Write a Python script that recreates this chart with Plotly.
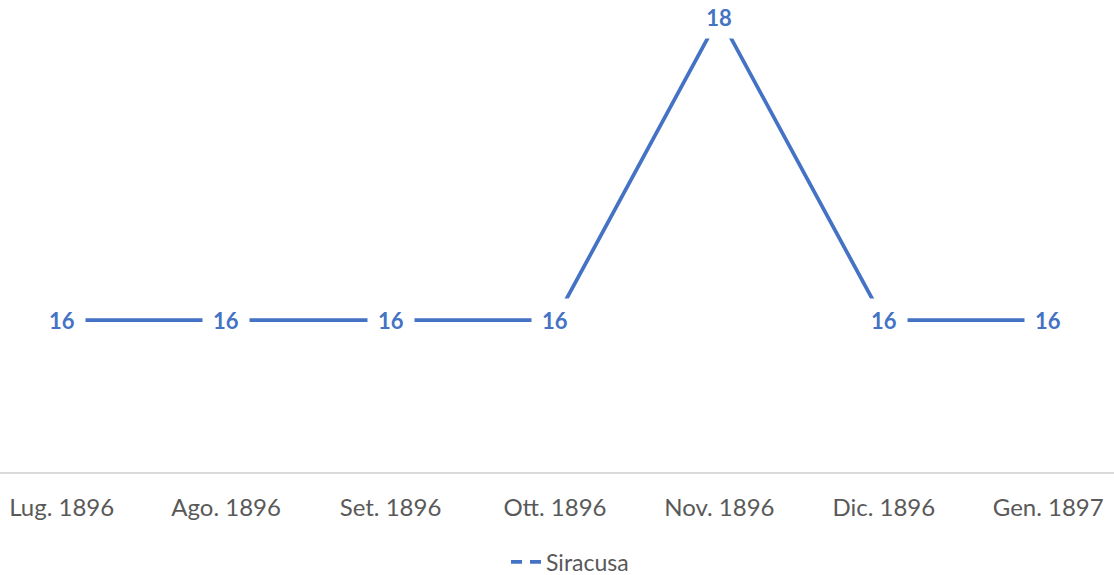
import plotly.graph_objects as go

months = ["Lug. 1896", "Ago. 1896", "Set. 1896", "Ott. 1896", "Nov. 1896", "Dic. 1896", "Gen. 1897"]
siracusa = [16, 16, 16, 16, 18, 16, 16]
series_name = "Siracusa"

BLUE = "#4472C4"
FONT = "Lato"

fig = go.Figure()
fig.add_trace(go.Scatter(
    x=months, y=siracusa, mode="lines", name=series_name,
    line=dict(color=BLUE, width=3.75), showlegend=False, hoverinfo="skip"))
# legend entry (dashed symbol as in reference)
fig.add_trace(go.Scatter(
    x=[months[0]], y=[None], mode="lines", name=series_name,
    line=dict(color=BLUE, width=3.75, dash="11px,8px"), showlegend=True))

for m, v in zip(months, siracusa):
    fig.add_annotation(
        x=m, y=v, text=str(v), showarrow=False,
        font=dict(family=FONT, size=22, color=BLUE, weight="bold"),
        bgcolor="white", borderpad=0, width=46, height=42,
        xanchor="center", yanchor="middle")

fig.update_layout(
    width=1114, height=575,
    margin=dict(l=0, r=0, t=0, b=103, autoexpand=False),
    paper_bgcolor="white", plot_bgcolor="white",
    font=dict(family=FONT, size=24, color="#595959"),
    showlegend=True,
    legend=dict(orientation="h", x=0.5 + 13 / 1114, xanchor="center",
                yref="container", y=13 / 575, yanchor="middle",
                font=dict(family=FONT, size=23, color="#595959")),
    xaxis=dict(type="category", range=[-0.375, 6.4], showgrid=False, zeroline=False,
               automargin=False,
               showline=True, linecolor="#D9D9D9", linewidth=2,
               ticks="", ticklabelstandoff=13,
               tickfont=dict(family=FONT, size=24, color="#595959")),
    yaxis=dict(range=[15.0, 18.11], visible=False, showgrid=False, zeroline=False,
               automargin=False),
)

fig.write_html("out.html")
